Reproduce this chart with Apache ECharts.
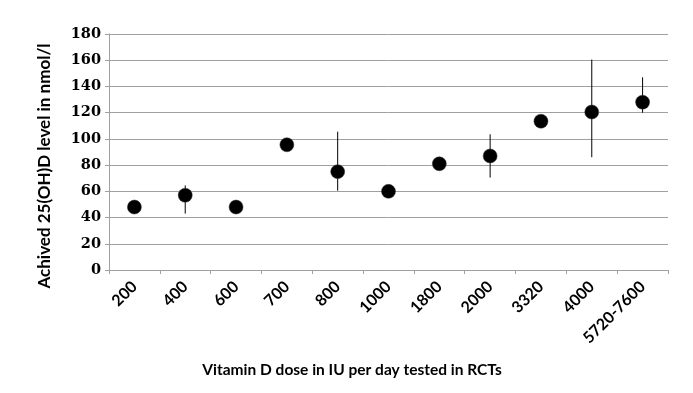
<!DOCTYPE html>
<html>
<head>
<meta charset="utf-8">
<script src="https://cdn.jsdelivr.net/npm/echarts@6/dist/echarts.min.js"></script>
<style>
html,body{margin:0;padding:0;background:#fff;}
#chart{width:693px;height:393px;}
</style>
</head>
<body>
<div id="chart"></div>
<script>
var categories = ['200','400','600','700','800','1000','1800','2000','3320','4000','5720-7600'];
var means = [48, 57, 48, 95.5, 75, 60, 81, 87, 113.5, 120.5, 128];
var errLow = [null, 43, null, null, 60.5, null, null, 70.5, null, 86, 120];
var errHigh = [null, 64.5, null, null, 105.5, null, null, 103.5, null, 160.5, 147];
var yTicks = [0, 20, 40, 60, 80, 100, 120, 140, 160, 180];

var chart = echarts.init(document.getElementById('chart'));
var errData = [];
for (var i = 0; i < categories.length; i++) {
  if (errLow[i] !== null) errData.push([i, errLow[i], errHigh[i]]);
}
var gray = '#a0a0a0';
chart.setOption({
  animation: false,
  backgroundColor: '#ffffff',
  grid: {left: 109, right: 25, top: 34, bottom: 123},
  xAxis: {
    type: 'category',
    data: categories,
    boundaryGap: true,
    axisLine: {show: true, lineStyle: {color: gray, width: 1}},
    axisTick: {show: true, length: 4, lineStyle: {color: gray}},
    axisLabel: {
      rotate: 45, margin: 14, interval: 0,
      color: '#000', fontFamily: 'Lato', fontWeight: 'bold', fontSize: 16
    }
  },
  yAxis: {
    type: 'value',
    min: yTicks[0], max: yTicks[yTicks.length - 1], interval: 20,
    axisLine: {show: true, lineStyle: {color: gray, width: 1}},
    axisTick: {show: true, length: 4, lineStyle: {color: gray}},
    splitLine: {show: true, lineStyle: {color: gray, width: 1}},
    axisLabel: {
      margin: 8, color: '#000', fontFamily: 'DejaVu Serif', fontWeight: 'bold', fontSize: 14.5
    }
  },
  graphic: [
    {
      type: 'text', x: 352, y: 370,
      style: {
        text: 'Vitamin D dose in IU per day tested in RCTs',
        fill: '#000', font: 'bold 15.5px Lato', textAlign: 'center', textVerticalAlign: 'middle'
      }
    },
    {
      type: 'text', x: 45, y: 166, rotation: Math.PI / 2,
      style: {
        text: 'Achived 25(OH)D level in nmol/l',
        fill: '#000', font: 'bold 17px Lato', textAlign: 'center', textVerticalAlign: 'middle'
      }
    }
  ],
  series: [
    {
      type: 'custom',
      data: errData,
      z: 2,
      renderItem: function (params, api) {
        var top = api.coord([api.value(0), api.value(2)]);
        var bot = api.coord([api.value(0), api.value(1)]);
        return {
          type: 'line',
          shape: {x1: top[0], y1: top[1], x2: bot[0], y2: bot[1]},
          style: {stroke: '#000', lineWidth: 1}
        };
      }
    },
    {
      type: 'scatter',
      data: means,
      symbol: 'circle',
      symbolSize: 14,
      z: 3,
      itemStyle: {color: '#000', opacity: 1, borderColor: '#333', borderWidth: 0.5}
    }
  ]
});
</script>
</body>
</html>
